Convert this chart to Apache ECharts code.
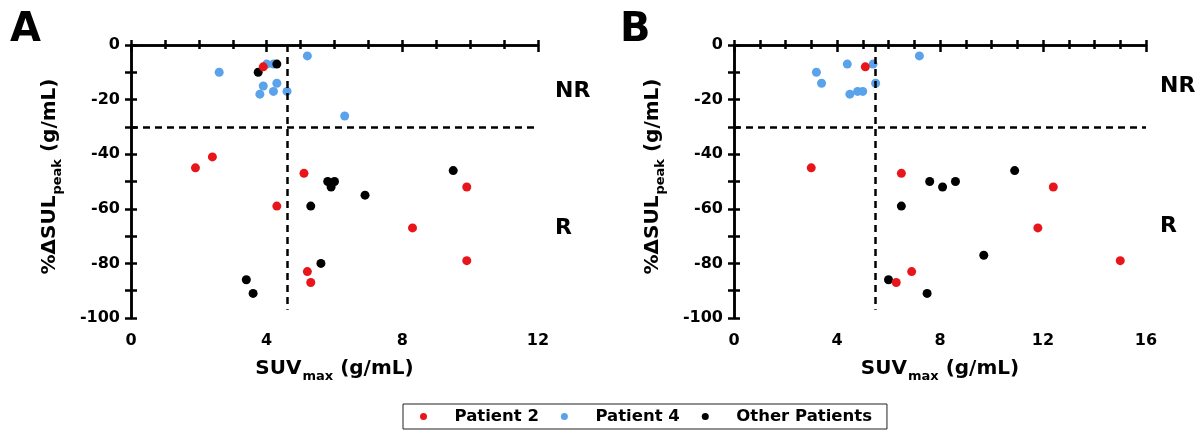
<!DOCTYPE html>
<html>
<head>
<meta charset="utf-8">
<script src="https://cdn.jsdelivr.net/npm/echarts@6/dist/echarts.min.js"></script>
<style>
  html, body { margin: 0; padding: 0; background: #fff; }
  #main { width: 1201px; height: 438px; }
</style>
</head>
<body>
<div id="main"></div>
<script>
// values, [SUVmax, %dSULpeak]
var patient2A = [[3.9, -8], [1.9, -45], [2.4, -41], [5.1, -47], [4.3, -59], [8.3, -67], [5.2, -83], [5.3, -87], [9.9, -52], [9.9, -79]];
var patient4A = [[2.6, -10], [4.0, -7], [4.2, -7], [5.2, -4], [3.9, -15], [4.3, -14], [3.8, -18], [4.2, -17], [4.6, -17], [6.3, -26]];
var otherA = [[3.75, -10], [4.3, -7], [5.8, -50], [6.0, -50], [5.9, -52], [6.9, -55], [5.3, -59], [5.6, -80], [3.4, -86], [3.6, -91], [9.5, -46]];

var patient2B = [[5.1, -8], [3.0, -45], [6.5, -47], [6.9, -83], [6.3, -87], [12.4, -52], [11.8, -67], [15.0, -79]];
var patient4B = [[3.2, -10], [3.4, -14], [4.4, -7], [5.4, -7], [7.2, -4], [5.5, -14], [4.5, -18], [4.8, -17], [5.0, -17]];
var otherB = [[7.6, -50], [8.1, -52], [8.6, -50], [6.5, -59], [6.0, -86], [7.5, -91], [10.9, -46], [9.7, -77]];

var cutX = [4.6, 5.5];   // vertical cut-offs, panel A and B
var cutY = -30;          // response cut-off
var xMax = [12, 16];
var legendNames = ['Patient 2', 'Patient 4', 'Other Patients'];
var colors = { 'Patient 2': '#e8161b', 'Patient 4': '#5aa2ea', 'Other Patients': '#000000' };

var FONT = 'DejaVu Sans';
var axisLine = { lineStyle: { color: '#000', width: 2.5 } };

var chart = echarts.init(document.getElementById('main'));

function bottomAxis(i) {
  return {
    gridIndex: i, type: 'value', min: 0, max: xMax[i], interval: 4,
    name: '{m|SUV}{s|max}{m| (g/mL)}', nameLocation: 'middle', nameGap: 40,
    nameTextStyle: {
      rich: {
        m: { fontFamily: FONT, fontWeight: 'bold', fontSize: 20, color: '#000', lineHeight: 22 },
        s: { fontFamily: FONT, fontWeight: 'bold', fontSize: 13, color: '#000', lineHeight: 13, padding: [16, 0, 0, 1] }
      }
    },
    axisLine: axisLine,
    axisTick: { show: true, inside: false, length: 7, lineStyle: { width: 2.5, color: '#000' } },
    minorTick: { show: true, splitNumber: 4, length: 4, lineStyle: { width: 2.5, color: '#000' } },
    axisLabel: { margin: 15, fontFamily: FONT, fontWeight: 'bold', fontSize: 16, color: '#000' },
    splitLine: { show: false }
  };
}

function topAxis(i) {
  return {
    gridIndex: i, type: 'value', position: 'top', min: 0, max: xMax[i], interval: 1,
    axisLine: axisLine,
    axisTick: { show: true, length: 5, lineStyle: { width: 2.5, color: '#000' } },
    axisLabel: { show: false },
    splitLine: { show: false }
  };
}

function leftAxis(i) {
  return {
    gridIndex: i, type: 'value', min: -100, max: 0, interval: 20,
    name: '{m|%ΔSUL}{s|peak}{m| (g/mL)}', nameLocation: 'middle', nameRotate: 90, nameGap: 70,
    nameTextStyle: {
      padding: [0, 0, 0, 10],
      rich: {
        m: { fontFamily: FONT, fontWeight: 'bold', fontSize: 20, color: '#000', lineHeight: 22 },
        s: { fontFamily: FONT, fontWeight: 'bold', fontSize: 13, color: '#000', lineHeight: 13, padding: [16, 0, 0, 1] }
      }
    },
    axisLine: axisLine,
    axisTick: { show: true, length: 6, lineStyle: { width: 2.5, color: '#000' } },
    minorTick: { show: true, splitNumber: 2, length: 6, lineStyle: { width: 2.5, color: '#000' } },
    axisLabel: { margin: 11, fontFamily: FONT, fontWeight: 'bold', fontSize: 16, color: '#000' },
    splitLine: { show: false }
  };
}

function rightAxis(i) {
  return {
    gridIndex: i, type: 'value', position: 'right', min: -100, max: 0, interval: 10,
    axisLine: axisLine,
    axisTick: { show: true, length: 6, lineStyle: { width: 2.5, color: '#000' } },
    axisLabel: { show: false },
    splitLine: { show: false }
  };
}

function cutLines(i) {
  return {
    type: 'scatter', xAxisIndex: i * 2, yAxisIndex: i * 2, data: [], silent: true,
    markLine: {
      silent: true, symbol: 'none', label: { show: false },
      lineStyle: { color: '#000', width: 2.5, type: [7, 5] },
      data: [
        { yAxis: cutY },
        [{ coord: [cutX[i], 0] }, { coord: [cutX[i], -97] }]
      ]
    }
  };
}

function pts(name, i, data) {
  return {
    name: name, type: 'scatter', xAxisIndex: i * 2, yAxisIndex: i * 2,
    symbol: 'circle', symbolSize: 9, data: data,
    itemStyle: { color: colors[name], opacity: 1 }
  };
}

var option = {
  animation: false,
  backgroundColor: '#fff',
  textStyle: { fontFamily: FONT },
  title: [
    { text: 'A', left: 5, top: 6, textStyle: { fontFamily: FONT, fontWeight: 'bold', fontSize: 40, color: '#000' } },
    { text: 'B', left: 615, top: 6, textStyle: { fontFamily: FONT, fontWeight: 'bold', fontSize: 40, color: '#000' } }
  ],
  graphic: [
    { type: 'text', left: 555, top: 80, style: { text: 'NR', font: 'bold 22px "DejaVu Sans"', fill: '#000' } },
    { type: 'text', left: 555, top: 217, style: { text: 'R', font: 'bold 22px "DejaVu Sans"', fill: '#000' } },
    { type: 'text', left: 1160, top: 75, style: { text: 'NR', font: 'bold 22px "DejaVu Sans"', fill: '#000' } },
    { type: 'text', left: 1160, top: 215, style: { text: 'R', font: 'bold 22px "DejaVu Sans"', fill: '#000' } }
  ],
  legend: {
    data: legendNames, left: 403, top: 404, orient: 'horizontal',
    icon: 'circle', itemWidth: 52, itemHeight: 7, itemGap: 22,
    padding: [4, 15, 4, 17],
    borderColor: '#222', borderWidth: 1,
    selectedMode: false,
    textStyle: { fontFamily: FONT, fontWeight: 'bold', fontSize: 16.5, color: '#000' }
  },
  grid: [
    { left: 131, top: 45, width: 407, height: 273 },
    { left: 734, top: 45, width: 412, height: 273 }
  ],
  xAxis: [bottomAxis(0), topAxis(0), bottomAxis(1), topAxis(1)],
  yAxis: [leftAxis(0), rightAxis(0), leftAxis(1), rightAxis(1)],
  series: [
    cutLines(0),
    pts('Patient 4', 0, patient4A),
    pts('Other Patients', 0, otherA),
    pts('Patient 2', 0, patient2A),
    cutLines(1),
    pts('Patient 4', 1, patient4B),
    pts('Other Patients', 1, otherB),
    pts('Patient 2', 1, patient2B)
  ]
};

chart.setOption(option);
</script>
</body>
</html>
